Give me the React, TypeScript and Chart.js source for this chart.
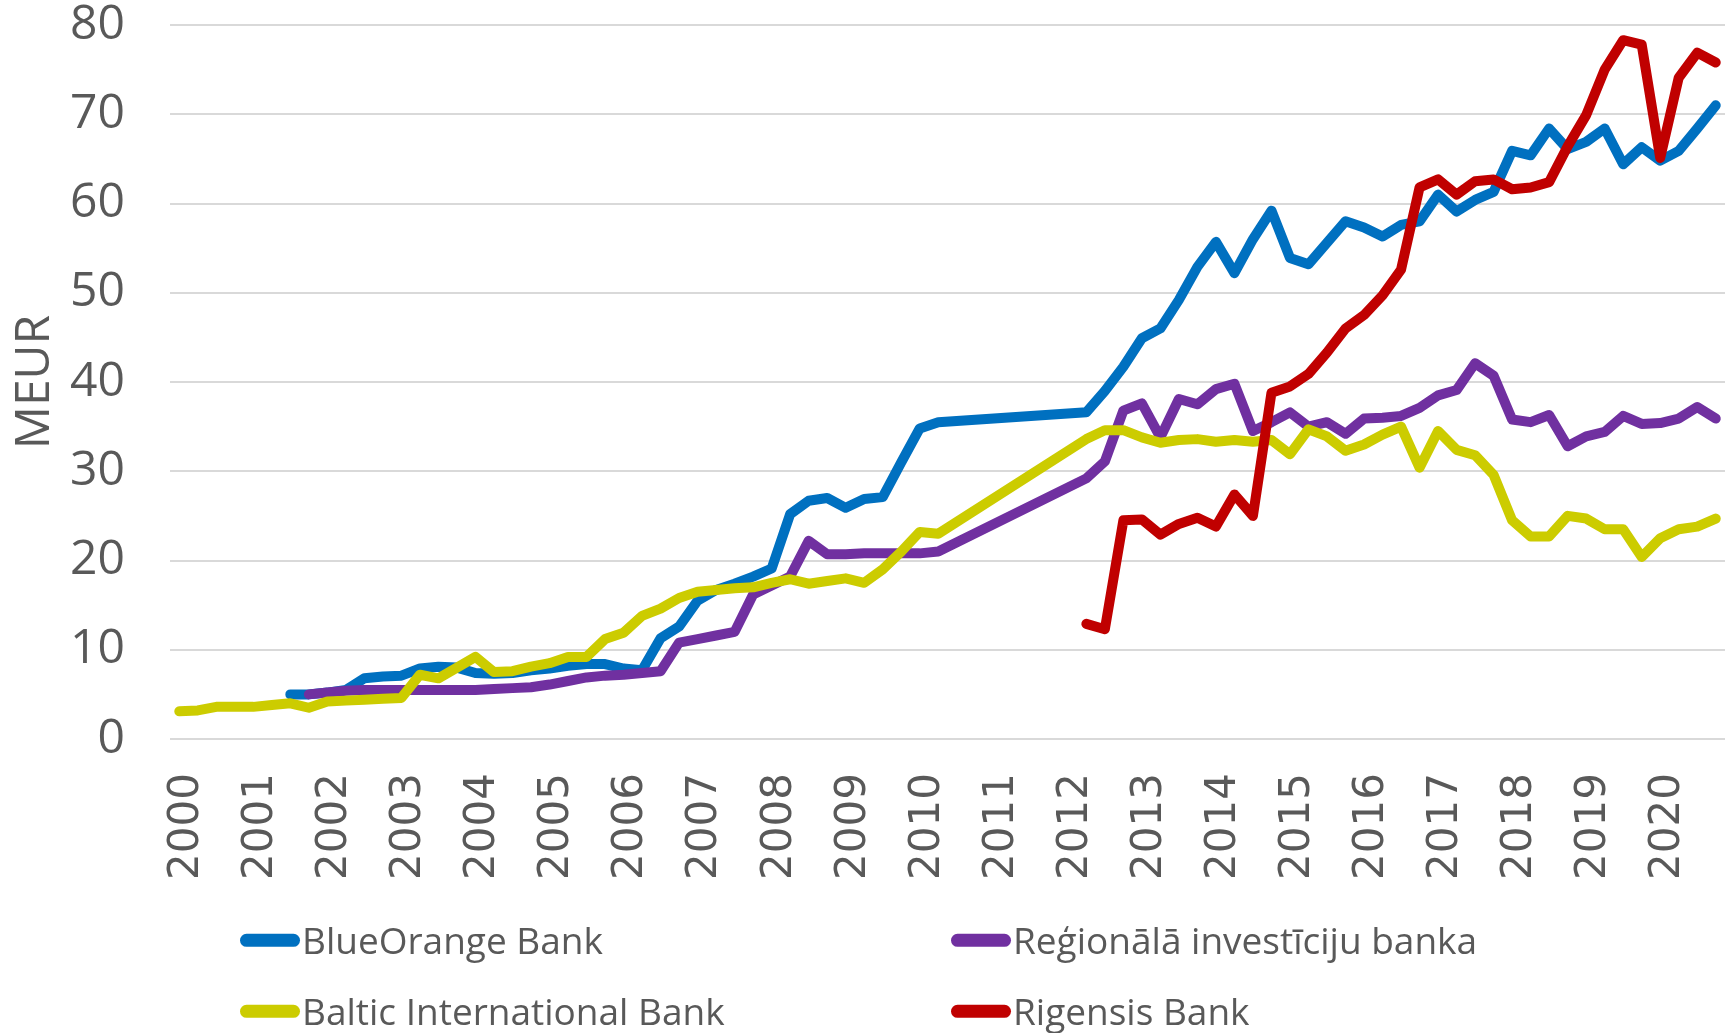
import React, { useEffect, useRef } from 'react';
import { Chart, registerables } from 'chart.js';

Chart.register(...registerables);

const years = [2000, 2001, 2002, 2003, 2004, 2005, 2006, 2007, 2008, 2009, 2010, 2011, 2012, 2013, 2014, 2015, 2016, 2017, 2018, 2019, 2020];
const quarters = ['Q1', 'Q2', 'Q3', 'Q4'];
const categories = years.flatMap((y) => quarters.map((q) => `${y} ${q}`));

const seriesNames = ['BlueOrange Bank', 'Reģionālā investīciju banka', 'Baltic International Bank', 'Rigensis Bank'];
const seriesColors = ['#0070C0', '#7030A0', '#CCCC00', '#C00000'];

// quarterly values, MEUR (one row per year, Q1..Q4)
const blueOrange: (number | null)[] = [
  null, null, null, null,
  null, null, 5.0, 5.0,
  5.2, 5.5, 6.8, 7.0,
  7.1, 7.9, 8.1, 8.0,
  7.4, 7.3, 7.4, 7.7,
  7.9, 8.2, 8.4, 8.4,
  7.9, 7.7, 11.3, 12.6,
  15.5, 16.7, 17.4, 18.2,
  19.1, 25.2, 26.7, 27.0,
  25.9, 26.9, 27.1, 31.0,
  34.8, 35.5, null, null,
  null, null, null, null,
  null, 36.6, 39.0, 41.7,
  44.9, 46.0, 49.2, 52.9,
  55.7, 52.2, 56.0, 59.2,
  53.9, 53.2, 55.6, 58.0,
  57.3, 56.3, 57.6, 58.0,
  61.0, 59.1, 60.4, 61.3,
  65.9, 65.4, 68.4, 66.1,
  66.9, 68.4, 64.4, 66.3,
  64.8, 65.9, 68.4, 71.0,
];

const regionala: (number | null)[] = [
  null, null, null, null,
  null, null, null, 5.0,
  5.2, 5.4, 5.5, 5.5,
  5.5, 5.5, 5.5, 5.5,
  5.5, 5.6, 5.7, 5.8,
  6.1, 6.5, 6.9, 7.1,
  7.2, 7.4, 7.6, 10.8,
  11.2, 11.6, 12.0, 16.2,
  17.2, 18.2, 22.2, 20.7,
  20.7, 20.8, 20.8, 20.8,
  20.8, 21.0, null, null,
  null, null, null, null,
  null, 29.2, 31.1, 36.8,
  37.6, 33.8, 38.1, 37.5,
  39.2, 39.8, 34.5, 35.5,
  36.6, 35.0, 35.5, 34.2,
  35.9, 36.0, 36.2, 37.1,
  38.5, 39.1, 42.1, 40.7,
  35.8, 35.5, 36.3, 32.8,
  33.9, 34.4, 36.2, 35.3,
  35.4, 35.9, 37.2, 35.9,
];

const balticInternational: (number | null)[] = [
  3.1, 3.2, 3.6, 3.6,
  3.6, 3.8, 4.0, 3.5,
  4.2, 4.3, 4.4, 4.5,
  4.6, 7.2, 6.8, 8.0,
  9.2, 7.5, 7.6, 8.1,
  8.5, 9.2, 9.2, 11.2,
  11.9, 13.8, 14.6, 15.8,
  16.5, 16.7, 16.9, 17.0,
  17.5, 17.9, 17.4, 17.7,
  18.0, 17.5, 19.0, 21.0,
  23.2, 23.0, null, null,
  null, null, null, null,
  null, 33.6, 34.6, 34.6,
  33.8, 33.2, 33.5, 33.6,
  33.3, 33.5, 33.3, 33.5,
  31.9, 34.7, 33.9, 32.3,
  33.0, 34.1, 35.0, 30.4,
  34.5, 32.4, 31.8, 29.6,
  24.5, 22.7, 22.7, 25.0,
  24.7, 23.5, 23.5, 20.4,
  22.5, 23.5, 23.8, 24.7,
];

const rigensis: (number | null)[] = [
  null, null, null, null,
  null, null, null, null,
  null, null, null, null,
  null, null, null, null,
  null, null, null, null,
  null, null, null, null,
  null, null, null, null,
  null, null, null, null,
  null, null, null, null,
  null, null, null, null,
  null, null, null, null,
  null, null, null, null,
  null, 12.9, 12.3, 24.5,
  24.6, 22.9, 24.1, 24.8,
  23.8, 27.4, 25.0, 38.8,
  39.5, 40.9, 43.3, 46.0,
  47.5, 49.7, 52.6, 61.8,
  62.7, 61.0, 62.5, 62.7,
  61.6, 61.8, 62.4, 66.4,
  69.9, 75.0, 78.3, 77.8,
  65.1, 74.1, 76.9, 75.8,
];

const seriesValues = [blueOrange, regionala, balticInternational, rigensis];

const yMin = 0;
const yMax = 80;
const yStep = 10;
const yTitle = 'MEUR';

const TEXT = '#595959';

const zeroPadding = (scale: any) => {
  scale.paddingTop = 0;
  scale.paddingBottom = 0;
  scale.paddingLeft = 0;
  scale.paddingRight = 0;
};

// nudges the rotated x tick labels so the digits sit centred on their category
const xLabelNudge = {
  id: 'xLabelNudge',
  afterLayout(chart: any) {
    const s = chart.scales.x;
    if (!s) return;
    const items = s.getLabelItems();
    items.forEach((it: any) => {
      const t = it.options.translation;
      it.options.translation = [t[0] + 8, t[1]];
    });
  },
};

export default function App() {
  const ref = useRef<HTMLCanvasElement>(null);

  useEffect(() => {
    const canvas = ref.current;
    if (!canvas) return;
    const chart = new Chart(canvas, {
      type: 'line',
      data: {
        labels: categories,
        datasets: seriesValues.map((vals, k) => ({
          label: seriesNames[k],
          data: vals,
          borderColor: seriesColors[k],
          backgroundColor: seriesColors[k],
          borderWidth: 10,
          borderCapStyle: 'round' as const,
          borderJoinStyle: 'round' as const,
          pointRadius: 0,
          pointHoverRadius: 0,
          tension: 0,
          spanGaps: true,
          fill: false,
          order: 3 - k,
        })),
      },
      plugins: [xLabelNudge],
      options: {
        animation: false,
        responsive: false,
        maintainAspectRatio: false,
        devicePixelRatio: 1,
        layout: { padding: { top: 25, right: 6, bottom: 0, left: 0 } },
        plugins: {
          legend: { display: false },
          tooltip: { enabled: false },
        },
        scales: {
          x: {
            type: 'category',
            offset: true,
            grid: { display: false, drawTicks: false },
            border: { display: false },
            ticks: {
              autoSkip: false,
              maxRotation: 90,
              minRotation: 90,
              padding: 34,
              color: TEXT,
              font: { family: '"DejaVu Sans", sans-serif', size: 42, lineHeight: 1 },
              callback: (_v: any, idx: number) => (idx % 4 === 0 ? String(years[idx / 4]) : ''),
            },
            afterFit: (scale: any) => {
              scale.height = 294;
              zeroPadding(scale);
            },
          },
          y: {
            min: yMin,
            max: yMax,
            grid: { color: '#D9D9D9', lineWidth: 2, drawTicks: false },
            border: { display: false },
            ticks: {
              stepSize: yStep,
              padding: 45,
              color: TEXT,
              font: { family: '"Open Sans", sans-serif', size: 48, lineHeight: 1 },
            },
            title: {
              display: true,
              text: yTitle,
              color: TEXT,
              padding: { top: 7, bottom: 0 },
              font: { family: '"Open Sans", sans-serif', size: 48, lineHeight: 1.2 },
            },
            afterFit: (scale: any) => {
              scale.width = 170;
              zeroPadding(scale);
            },
          },
        },
      },
    });
    return () => chart.destroy();
  }, []);

  const legendPos = [
    { left: 240, top: 940 },
    { left: 951, top: 940 },
    { left: 240, top: 1011 },
    { left: 951, top: 1011 },
  ];

  return (
    <div style={{ position: 'fixed', left: 0, top: 0, width: 1731, height: 1033, background: '#fff', overflow: 'hidden' }}>
      <canvas ref={ref} width={1731} height={1033} style={{ position: 'absolute', left: 0, top: 0, width: 1731, height: 1033 }} />
      {seriesNames.map((name, k) => (
        <div
          key={name}
          style={{
            position: 'absolute',
            left: legendPos[k].left,
            top: legendPos[k].top,
            transform: 'translateY(-50%)',
            display: 'flex',
            alignItems: 'center',
            whiteSpace: 'nowrap',
          }}
        >
          <div style={{ width: 60, height: 13, borderRadius: 6.5, background: seriesColors[k] }} />
          <span style={{ marginLeft: 2, fontFamily: '"Open Sans", sans-serif', fontSize: 37, color: TEXT, lineHeight: 1.2 }}>{name}</span>
        </div>
      ))}
    </div>
  );
}
